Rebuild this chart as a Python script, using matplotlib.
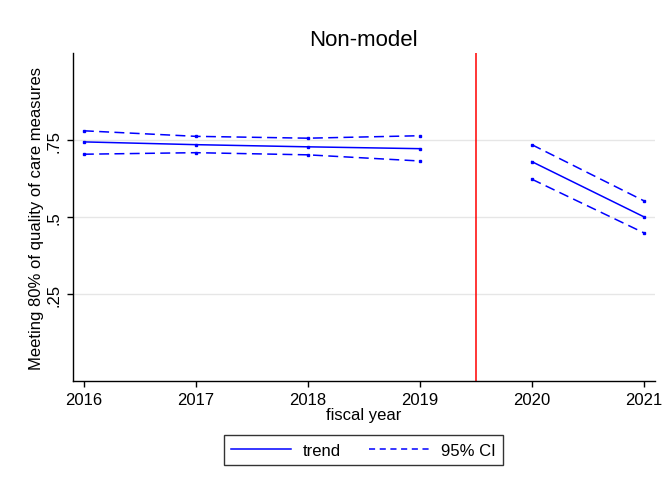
import matplotlib
matplotlib.use("Agg")
import matplotlib.pyplot as plt
from matplotlib.lines import Line2D

plt.rcParams['font.family'] = ['Liberation Sans', 'DejaVu Sans']

# Pre-period (2016-2019) and post-period (2020-2021) estimates
years_pre = [2016, 2017, 2018, 2019]
trend_pre = [0.744, 0.735, 0.728, 0.722]
upper_pre = [0.780, 0.762, 0.756, 0.764]
lower_pre = [0.704, 0.709, 0.702, 0.682]

years_post = [2020, 2021]
trend_post = [0.680, 0.501]
upper_post = [0.735, 0.553]
lower_post = [0.623, 0.449]

cutoff = 2019.5
yticks = [0.25, 0.5, 0.75]
ytick_labels = ['.25', '.5', '.75']
xticks = [2016, 2017, 2018, 2019, 2020, 2021]

fig = plt.figure(figsize=(6.67, 4.89), dpi=100)
ax = fig.add_axes([0.109, 0.219, 0.873, 0.670])

blue = '#0000ff'
dash = (0, (6.5, 3.5))
for xs, tr, up, lo in [(years_pre, trend_pre, upper_pre, lower_pre),
                       (years_post, trend_post, upper_post, lower_post)]:
    ax.plot(xs, tr, color=blue, lw=1.1, marker='s', ms=1.8)
    ax.plot(xs, up, color=blue, lw=1.1, ls=dash, marker='s', ms=1.8)
    ax.plot(xs, lo, color=blue, lw=1.1, ls=dash, marker='s', ms=1.8)

ax.axvline(cutoff, color='red', lw=1.1)

ax.set_xlim(2015.9, 2021.1)
ax.set_ylim(-0.0315, 1.0315)
ax.set_xticks(xticks)
ax.set_xticklabels([str(x) for x in xticks], fontsize=12)
ax.set_yticks(yticks)
ax.set_yticklabels(ytick_labels, fontsize=12, rotation=90, va='center')
ax.yaxis.grid(True, color='#e6e6e6', lw=1)
ax.set_axisbelow(True)
for side in ['top', 'right']:
    ax.spines[side].set_visible(False)
for side in ['left', 'bottom']:
    ax.spines[side].set_linewidth(1.0)
ax.tick_params(direction='out', length=4, width=1, pad=4)

ax.set_title('Non-model', fontsize=16, pad=6)
ax.set_xlabel('fiscal year', fontsize=12, labelpad=0)
ax.set_ylabel('Meeting 80% of quality of care measures', fontsize=12, labelpad=2)

handles = [Line2D([], [], color=blue, lw=1.1),
           Line2D([], [], color=blue, lw=1.1, ls=(0, (4, 3)))]
leg = fig.legend(handles, ['trend', '95% CI'], loc='center',
                 bbox_to_anchor=(0.545, 0.0767), ncol=2, fontsize=12,
                 frameon=True, fancybox=False, edgecolor='black',
                 handlelength=3.6, handletextpad=0.7, columnspacing=1.7,
                 borderpad=0.45, borderaxespad=0)
leg.get_frame().set_linewidth(1.0)

fig.savefig('out.png', dpi=100)
